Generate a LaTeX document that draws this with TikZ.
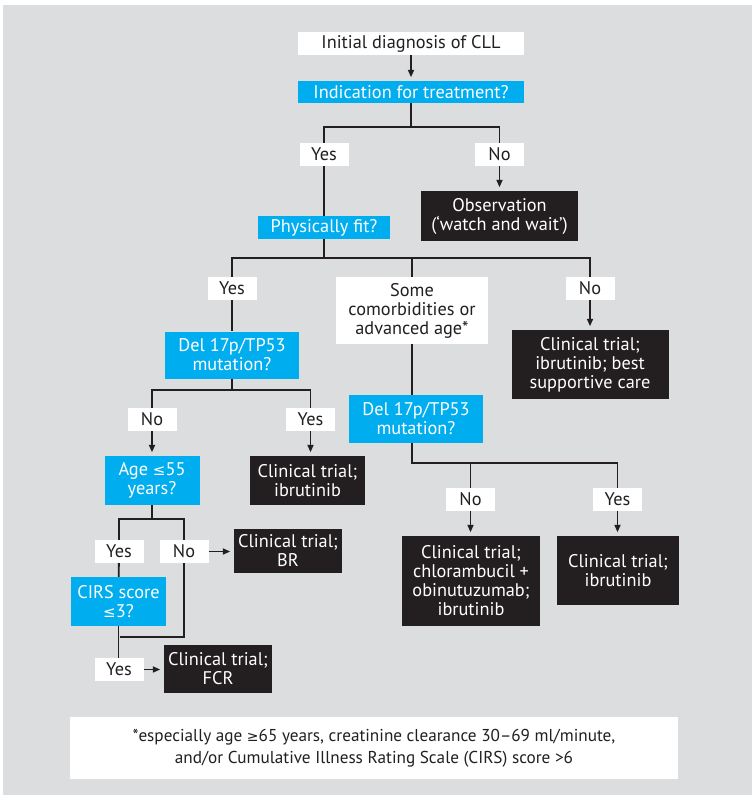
\documentclass[tikz,border=0pt]{standalone}
\usepackage{fontspec}
\setmainfont{PT Sans}
\newfontfamily\symfont{DejaVu Sans}
\usetikzlibrary{arrows.meta}
\definecolor{panel}{RGB}{220,221,222}
\definecolor{qcyan}{RGB}{0,174,239}
\definecolor{ink}{RGB}{35,31,32}
\newcommand{\lesym}{{\symfont\fontsize{15}{19}\selectfont ≤}}
\newcommand{\gesym}{{\symfont\fontsize{14}{18}\selectfont ≥}}
\begin{document}
\begin{tikzpicture}[x=1pt,y=-1pt,
  every node/.style={font=\fontsize{18.3}{19}\selectfont, inner sep=0pt, align=center},
  sz/.style 2 args={minimum width=#1pt,minimum height=#2pt},
  whitebox/.style={fill=white,text=ink},
  question/.style={fill=qcyan,text=white},
  outcome/.style={fill=ink,text=white},
  answer/.style={whitebox,sz={49}{23}},
  wire/.style={draw=ink,line width=1.8pt},
  arrowwire/.style={wire,-{Triangle[length=7.5pt,width=6pt]},shorten >=3.5pt},
]
% page and grey panel
\useasboundingbox (0,0) rectangle (752,795);
\fill[white] (0,0) rectangle (752,795);
\fill[panel] (3,5) rectangle (752,795);

% boxes
\node[whitebox,sz={226}{23}] (init) at (411,43.5) {Initial diagnosis of CLL};
\node[question,sz={226}{22}] (ind) at (411,92) {Indication for treatment?};
\node[answer] (yes1) at (324,154.5) {Yes};
\node[answer] (no1) at (499.5,154.5) {No};
\node[outcome,sz={157}{50}] (obs) at (499.5,216) {Observation\\(‘watch and wait’)};
\node[question,sz={132}{23}] (phys) at (324,227.5) {Physically fit?};

\node[answer] (yes2) at (232,288.5) {Yes};
\node[whitebox,sz={152}{67}] (some) at (412,310.5) {Some\\comorbidities or\\advanced age*};
\node[answer] (no2) at (590,288.5) {No};
\node[outcome,sz={157}{69}] (best) at (590,364.5) {Clinical trial;\\ibrutinib; best\\supportive care};

\node[question,sz={134}{47}] (del1) at (232,355) {Del 17p/TP53\\mutation?};
\node[answer] (no3) at (152,419.5) {No};
\node[answer] (yes3) at (310.5,419.5) {Yes};
\node[question,sz={95}{49}] (age) at (152,480.5) {Age \lesym55\\years?};
\node[outcome,sz={115}{49}] (ib1) at (307.5,480.5) {Clinical trial;\\ibrutinib};

\node[question,sz={134}{48}] (del2) at (416,419) {Del 17p/TP53\\mutation?};
\node[answer] (no4) at (470.5,499.5) {No};
\node[answer] (yes4) at (617.5,499.5) {Yes};
\node[outcome,sz={138}{90}] (chl) at (471,581) {Clinical trial;\\chlorambucil +\\obinutuzumab;\\ibrutinib};
\node[outcome,sz={122}{69}] (ib2) at (618,570.5) {Clinical trial;\\ibrutinib};

\node[answer] (yes5) at (119,551.5) {Yes};
\node[answer] (no5) at (184,551.5) {No};
\node[outcome,sz={108}{44}] (br) at (288,551) {Clinical trial;\\BR};
\node[question,sz={95}{49}] (cirs) at (118.5,601.5) {CIRS score\\\lesym3?};
\node[answer] (yes6) at (119,669.5) {Yes};
\node[outcome,sz={108}{48}] (fcr) at (218,669) {Clinical trial;\\FCR};

\node[whitebox,sz={608}{62},font=\fontsize{17.2}{22}\selectfont] (foot) at (374,748)
  {*especially age \gesym65 years, creatinine clearance 30–69 ml/minute,\\and/or Cumulative Illness Rating Scale (CIRS) score >6};

% connectors
\coordinate (b1) at (411,127);
\coordinate (b2) at (324,258);
\coordinate (b3) at (232,390);
\coordinate (b4) at (412,463);
\coordinate (b5) at (152,519);
\coordinate (j5) at (120,637);

\draw[arrowwire] (init) -- (ind);
\draw[wire] (ind.south) -- (b1);
\draw[wire] (yes1.north) |- (b1) -| (no1.north);
\draw[wire] (yes1) -- (phys);
\draw[arrowwire] (no1) -- (obs);

\draw[wire] (phys.south) -- (b2);
\draw[wire] (yes2.north) |- (b2) -| (no2.north);
\draw[wire] (some.north) -- (some.north |- b2);
\draw[wire] (yes2) -- (del1);
\draw[arrowwire] (no2) -- (best);

\draw[wire] (del1.south) -- (b3);
\draw[wire] (no3.north) |- (b3) -| (yes3.north);
\draw[arrowwire] (no3) -- (age);
\draw[arrowwire] (yes3.south) -- (yes3.south |- ib1.north);

\draw[wire] (some.south) -- (some.south |- del2.north);
\draw[wire] (some.south |- del2.south) -- (b4) -| (yes4.north);
\draw[wire] (no4.north) -- (no4.north |- b4);
\draw[arrowwire] (no4.south) -- (no4.south |- chl.north);
\draw[arrowwire] (yes4.south) -- (yes4.south |- ib2.north);

\draw[wire] (age.south) -- (b5);
\draw[wire] (yes5.north) |- (b5) -| (no5.north);
\draw[arrowwire] (no5.east) -- (br.west |- no5.east);
\draw[wire] (yes5) -- (cirs);
\draw[wire] (no5.south) |- (j5);
\draw[wire] (cirs.south) -- (cirs.south |- yes6.north);
\draw[arrowwire] (yes6.east) -- (fcr.west |- yes6.east);
\end{tikzpicture}
\end{document}
